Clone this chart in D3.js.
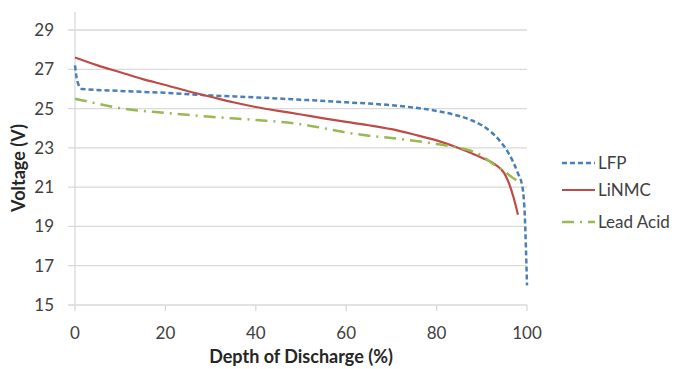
<!DOCTYPE html>
<html><head><meta charset="utf-8">
<script src="https://cdn.jsdelivr.net/npm/d3@7"></script>
<style>body{margin:0;background:#fff}svg{display:block}</style>
</head><body><svg id="c" width="678" height="369"></svg>
<script>
const xTicks = [0,20,40,60,80,100];
const yTicks = [15,17,19,21,23,25,27,29];
const seriesNames = ["LFP","LiNMC","Lead Acid"];
const lfp = [[0,27.2],[0.5,26.4],[1.5,26.0],[10,25.9],[20,25.8],[30,25.67],[40,25.57],[50,25.45],[60,25.32],[70,25.17],[75,25.05],[80,24.88],[85,24.62],[88,24.38],[90,24.15],[92,23.82],[94,23.35],[96,22.7],[97,22.25],[98,21.7],[99,21.0],[99.5,19.6],[100,16.0]];
const linmc = [[0,27.6],[5,27.2],[10,26.85],[15,26.5],[20,26.2],[25,25.88],[30,25.6],[35,25.32],[40,25.08],[45,24.88],[50,24.7],[55,24.5],[60,24.32],[65,24.15],[70,23.95],[75,23.68],[80,23.38],[85,22.98],[88,22.7],[90,22.5],[93,22.15],[95,21.7],[96,21.2],[97,20.5],[98,19.6]];
const leadAcid = [[0,25.5],[5,25.25],[10,25.02],[20,24.78],[30,24.58],[40,24.42],[50,24.2],[55,24.0],[60,23.78],[65,23.62],[70,23.5],[75,23.36],[80,23.2],[85,23.0],[88,22.82],[90,22.6],[93,22.1],[95,21.8],[97,21.45],[99,21.2]];

const svg = d3.select("#c");
const font = "Lato, 'Open Sans', sans-serif";
const x = d3.scaleLinear().domain([0,100]).range([75,527]);
const y = d3.scaleLinear().domain([15,29]).range([305,30]);

svg.append("g").selectAll("line").data(yTicks).join("line")
  .attr("x1",68).attr("x2",527).attr("y1",d=>y(d)).attr("y2",d=>y(d))
  .attr("stroke","#d9d9d9").attr("stroke-width",1.3);
svg.append("line").attr("x1",x(0)).attr("x2",x(0)).attr("y1",12).attr("y2",y(15))
  .attr("stroke","#d9d9d9").attr("stroke-width",1.3);
svg.append("g").selectAll("line").data(xTicks).join("line")
  .attr("x1",d=>x(d)).attr("x2",d=>x(d)).attr("y1",y(15)).attr("y2",y(15)+6)
  .attr("stroke","#d9d9d9").attr("stroke-width",1.3);

svg.append("g").selectAll("text").data(yTicks).join("text")
  .attr("x",54).attr("y",d=>y(d)).attr("dy","0.35em").attr("text-anchor","end")
  .attr("font-family",font).attr("font-size",17).attr("fill","#404040").text(d=>d);
svg.append("g").selectAll("text").data(xTicks).join("text")
  .attr("x",d=>x(d)).attr("y",333).attr("dy","0.35em").attr("text-anchor","middle")
  .attr("font-family",font).attr("font-size",17).attr("fill","#404040").text(d=>d);

svg.append("text").attr("x",301).attr("y",357).attr("dy","0.35em").attr("text-anchor","middle")
  .attr("font-family",font).attr("font-size",18).attr("font-weight","bold").attr("fill","#262626")
  .text("Depth of Discharge (%)");
svg.append("text").attr("transform","translate(19,168) rotate(-90)").attr("dy","0.35em").attr("text-anchor","middle")
  .attr("font-family",font).attr("font-size",18).attr("font-weight","bold").attr("fill","#262626")
  .text("Voltage (V)");

const line = d3.line().x(d=>x(d[0])).y(d=>y(d[1])).curve(d3.curveMonotoneX);
const styles = [
  {data:lfp, color:"#4a7ebb", dash:"5,3", w:2.5},
  {data:linmc, color:"#be4b48", dash:null, w:2.2},
  {data:leadAcid, color:"#98b954", dash:"12,6,2,6", w:2.5}
];
styles.forEach((s,i)=>{
  svg.append("path").attr("d", line(s.data)).attr("fill","none")
    .attr("stroke",s.color).attr("stroke-width",s.w).attr("stroke-dasharray",s.dash);
});

const legY = [163,190,222];
seriesNames.forEach((n,i)=>{
  const s = styles[i];
  svg.append("line").attr("x1",562).attr("x2",595).attr("y1",legY[i]).attr("y2",legY[i])
    .attr("stroke",s.color).attr("stroke-width",s.w).attr("stroke-dasharray",s.dash);
  svg.append("text").attr("x",598).attr("y",legY[i]).attr("dy","0.35em")
    .attr("font-family",font).attr("font-size",17).attr("fill","#404040").text(n);
});
</script></body></html>
